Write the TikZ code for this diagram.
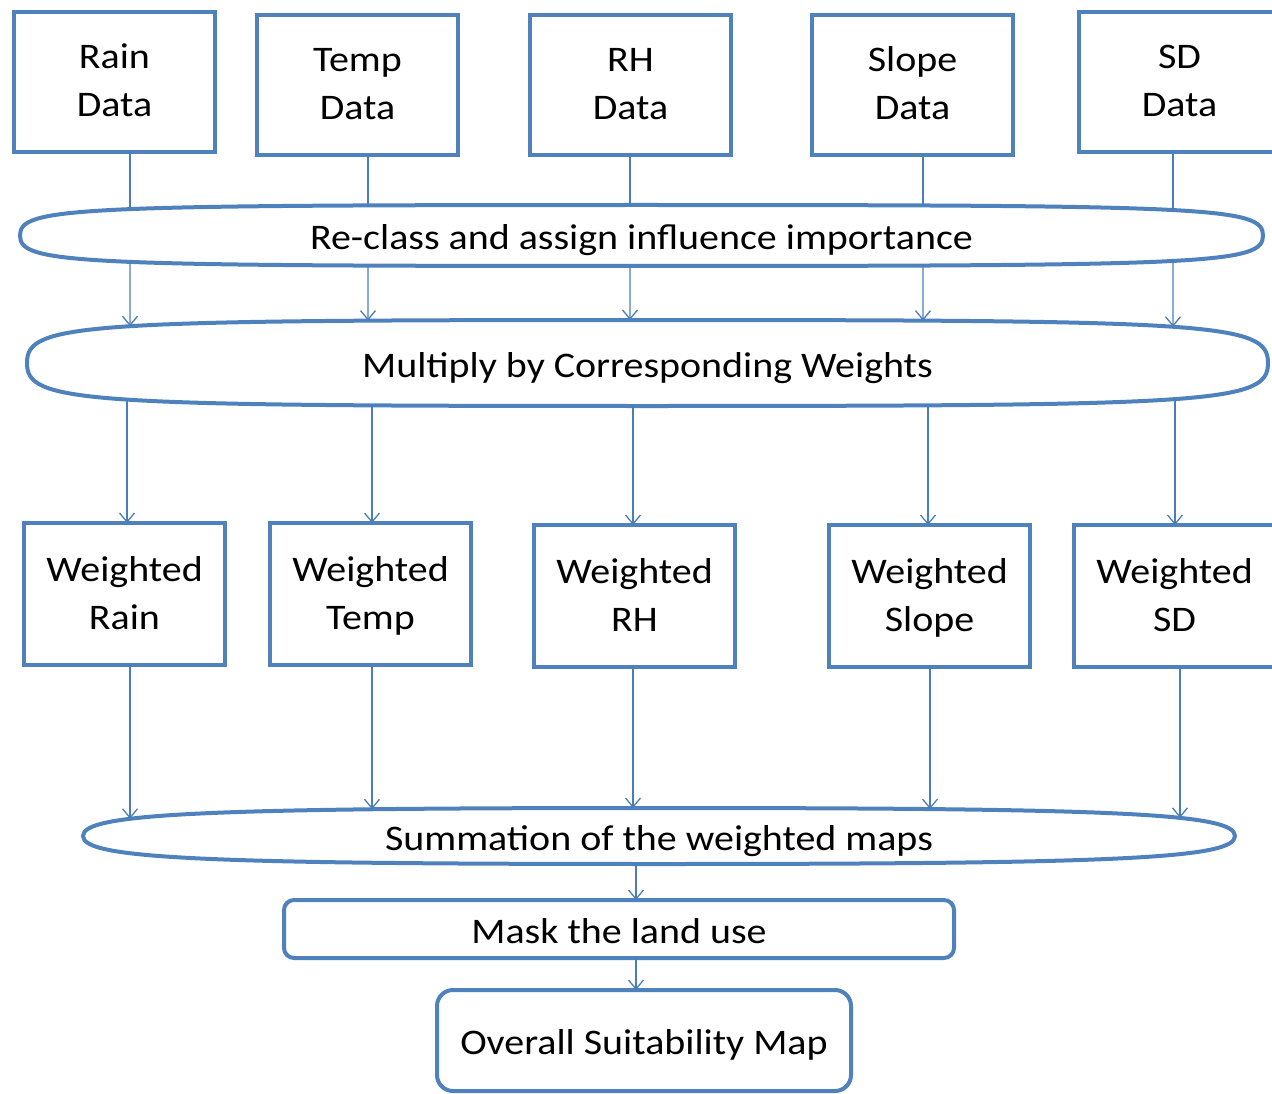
\documentclass[tikz,border=0pt]{standalone}
\usepackage{fontspec}
\setmainfont{Carlito}[FakeStretch=1.11]
\usetikzlibrary{arrows.meta,calc,intersections}
\definecolor{boxc}{RGB}{79,129,189}
\definecolor{linec}{RGB}{74,126,187}
\begin{document}
\begin{tikzpicture}[x=1pt,y=-1pt,
  every node/.style={font=\fontsize{36}{48}\selectfont, text=black, inner sep=0pt, outer sep=0pt},
  box/.style={draw=boxc, line width=4pt, minimum width=201pt, minimum height=140pt, align=center,
    text height=80pt, text depth=10pt},
  wbox/.style={box, minimum height=142pt},
  oneline/.style={text height=36pt, text depth=8pt},
  rbox/.style={draw=boxc, line width=4pt, rounded corners=10pt, align=center, oneline},
  ovalnode/.style={align=center, oneline},
  ovalline/.style={draw=boxc, line width=4pt},
  conn/.style={draw=linec, line width=1.3pt},
  arr/.style={conn, -{Straight Barb[length=9pt,width=15pt]}},
  ovalof/.style n args={2}{insert path={
    (#1.west) .. controls ($(#1.west)!#2!(#1.north west)$) and ($(#1.north)!#2!(#1.north west)$) .. (#1.north)
    .. controls ($(#1.north)!#2!(#1.north east)$) and ($(#1.east)!#2!(#1.north east)$) .. (#1.east)
    .. controls ($(#1.east)!#2!(#1.south east)$) and ($(#1.south)!#2!(#1.south east)$) .. (#1.south)
    .. controls ($(#1.south)!#2!(#1.south west)$) and ($(#1.west)!#2!(#1.south west)$) .. cycle}}
]
\useasboundingbox (0,0) rectangle (1272,1094);
\clip (0,0) rectangle (1272,1094);

% input data boxes
\node[box] (rainD)  at (114.5,82) {Rain\\Data};
\node[box] (tempD)  at (357.5,85) {Temp\\Data};
\node[box] (rhD)    at (630.5,85) {RH\\Data};
\node[box] (slopeD) at (912.5,85) {Slope\\Data};
\node[box] (sdD)    at (1179.5,82) {SD\\Data};

% process ovals
\node[ovalnode, minimum width=1243pt, minimum height=61pt] (e1) at (641.5,235.5) {Re-class and assign influence importance};
\node[ovalnode, minimum width=1241pt, minimum height=86pt] (e2) at (647.5,363) {Multiply by Corresponding Weights};

% weighted boxes
\node[wbox] (wRain)  at (124.5,594) {Weighted\\Rain};
\node[wbox] (wTemp)  at (370.5,594) {Weighted\\Temp};
\node[wbox] (wRH)    at (634.5,596) {Weighted\\RH};
\node[wbox] (wSlope) at (929.5,596) {Weighted\\Slope};
\node[wbox] (wSD)    at (1174.5,596) {Weighted\\SD};

\node[ovalnode, minimum width=1152pt, minimum height=56pt] (e3) at (659,836) {Summation of the weighted maps};
\node[rbox, minimum width=670pt, minimum height=58pt] (mask) at (619,929) {Mask the land use};
\node[rbox, minimum width=414pt, minimum height=101pt, rounded corners=16pt] (final) at (644,1040.5) {Overall Suitability Map};

% oval outlines
\path[ovalline, name path=E1, ovalof={e1}{0.92}];
\path[ovalline, name path=E2, ovalof={e2}{0.92}];
\path[ovalline, name path=E3, ovalof={e3}{0.8}];

% data boxes -> E1 -> E2
\foreach \n/\x/\b in {a/130/rainD, b/368/tempD, c/630/rhD, d/923/slopeD, e/1173/sdD} {
  \path[name path=vl] (\x,0) -- (\x,1100);
  \path[name intersections={of=E1 and vl, name=pA\n, sort by=vl}];
  \path[name intersections={of=E2 and vl, name=pB\n, sort by=vl}];
  \draw[conn] (\b.south -| pA\n-1) -- (pA\n-1);
  \draw[arr] (pA\n-2) -- (pB\n-1);
}

% E2 -> weighted boxes
\foreach \n/\x/\b in {a/127/wRain, b/372/wTemp, c/633/wRH, d/928/wSlope, e/1175/wSD} {
  \path[name path=vl] (\x,0) -- (\x,1100);
  \path[name intersections={of=E2 and vl, name=pC\n, sort by=vl}];
  \draw[arr] (pC\n-2) -- (\b.north -| pC\n-2);
}

% weighted boxes -> E3
\foreach \n/\x/\b in {a/130/wRain, b/372/wTemp, c/633/wRH, d/930/wSlope, e/1180/wSD} {
  \path[name path=vl] (\x,0) -- (\x,1100);
  \path[name intersections={of=E3 and vl, name=pD\n, sort by=vl}];
  \draw[arr] (\b.south -| pD\n-1) -- (pD\n-1);
}

% E3 -> mask -> final
\path[name path=vm] (636,0) -- (636,1100);
\path[name intersections={of=E3 and vm, name=pE, sort by=vm}];
\draw[arr] (pE-2) -- (mask.north -| pE-2);
\draw[arr] (mask.south -| pE-2) -- (final.north -| pE-2);
\end{tikzpicture}
\end{document}
